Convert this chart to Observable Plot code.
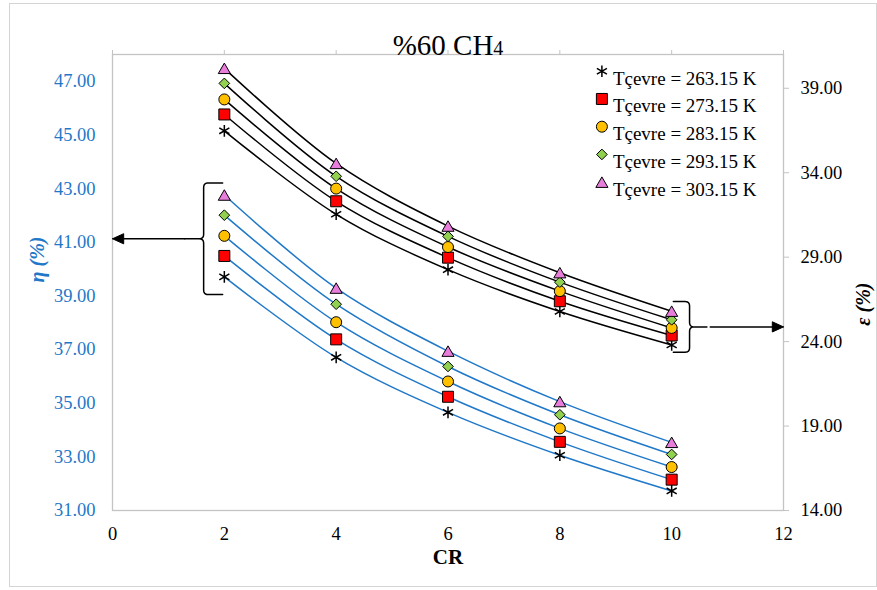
<!DOCTYPE html>
<html>
<head>
<meta charset="utf-8">
<script src="https://cdn.jsdelivr.net/npm/d3@7"></script>
<script src="https://cdn.jsdelivr.net/npm/@observablehq/plot@0.6"></script>
<style>
  html, body { margin: 0; padding: 0; background: #fff; }
  #chart { position: relative; width: 877px; height: 590px; }
  #border { position: absolute; left: 9px; top: 3px; width: 868px; height: 584px;
            border: 1px solid #d4d4d4; box-sizing: border-box; pointer-events: none; }
</style>
</head>
<body>
<div id="chart"><div id="border"></div></div>
<script>
// Compression ratio (x)
const crValues = [2, 4, 6, 8, 10];

// Ambient temperature series
const seriesNames = [
  "Tçevre = 263.15 K",
  "Tçevre = 273.15 K",
  "Tçevre = 283.15 K",
  "Tçevre = 293.15 K",
  "Tçevre = 303.15 K"
];

// Energy efficiency η (%), left axis
const eta263 = [39.71, 36.71, 34.66, 33.06, 31.73];
const eta273 = [40.49, 37.38, 35.24, 33.56, 32.15];
const eta283 = [41.24, 38.02, 35.81, 34.06, 32.62];
const eta293 = [42.01, 38.69, 36.37, 34.57, 33.09];
const eta303 = [42.76, 39.29, 36.94, 35.06, 33.54];

// Exergy efficiency ε (%), right axis
const eps263 = [36.48, 31.54, 28.26, 25.78, 23.80];
const eps273 = [37.45, 32.31, 28.97, 26.39, 24.36];
const eps283 = [38.34, 33.06, 29.60, 26.99, 24.81];
const eps293 = [39.29, 33.79, 30.23, 27.52, 25.29];
const eps303 = [40.18, 34.55, 30.84, 28.08, 25.80];

// Tick labels
const xTicks = [0, 2, 4, 6, 8, 10, 12];
const etaTicks = [31, 33, 35, 37, 39, 41, 43, 45, 47];
const epsTicks = [14, 19, 24, 29, 34, 39];

// Marker styles per series
const symbols = ["asterisk", "square", "circle", "diamond2", "triangle"];
const fills = ["none", "#ff0000", "#ffc000", "#92d050", "#e87ddc"];
const radii = [5.5, 6.2, 5.5, 4.8, 4.5];

const etaSeries = [eta263, eta273, eta283, eta293, eta303];
const epsSeries = [eps263, eps273, eps283, eps293, eps303];

const BLUE = "#1f78c8";
const GRAY = "#c4c4c4";
const SERIF = "'Liberation Serif', 'Times New Roman', serif";

// ε values are drawn against the η scale through this linear map
const etaDomain = [31, 48];
const epsDomain = [14, 41];
const toEta = d3.scaleLinear().domain(epsDomain).range(etaDomain);

const rows = seriesNames.flatMap((name, s) =>
  crValues.map((cr, i) => ({
    name, s, cr,
    eta: etaSeries[s][i],
    eps: epsSeries[s][i]
  }))
);

// Curly brace as a polyline with rounded corners
function brace(xEnd, xSpine, xTip, top, bottom, rx, ry) {
  const mid = (top + bottom) / 2;
  const s = Math.sign(xEnd - xSpine);
  const q = (a, c, b, n = 6) => d3.range(n + 1).map(i => {
    const t = i / n;
    return [
      (1 - t) ** 2 * a[0] + 2 * (1 - t) * t * c[0] + t * t * b[0],
      (1 - t) ** 2 * a[1] + 2 * (1 - t) * t * c[1] + t * t * b[1]
    ];
  });
  return [
    [xEnd, top],
    ...q([xSpine + s * rx, top], [xSpine, top], [xSpine, top - ry]),
    ...q([xSpine, mid + ry], [xSpine, mid], [xSpine - s * rx, mid]),
    [xTip, mid],
    ...q([xSpine - s * rx, mid], [xSpine, mid], [xSpine, mid - ry]),
    ...q([xSpine, bottom + ry], [xSpine, bottom], [xSpine + s * rx, bottom]),
    [xEnd, bottom]
  ];
}

// Left brace groups the η curves at the first CR, right brace the ε curves at the last CR
const firstCR = crValues[0];
const lastCR = crValues[crValues.length - 1];
const etaFirst = etaSeries.map(a => a[0]);
const epsLast = epsSeries.map(a => toEta(a[a.length - 1]));
const leftTop = d3.max(etaFirst) + 0.45, leftBottom = d3.min(etaFirst) - 0.66;
const rightTop = d3.max(epsLast) + 0.36, rightBottom = d3.min(epsLast) - 0.27;
const leftMid = (leftTop + leftBottom) / 2;
const rightMid = (rightTop + rightBottom) / 2;
const leftBrace = brace(firstCR - 0.03, firstCR - 0.37, firstCR - 0.71, leftTop, leftBottom, 0.08, 0.17);
const rightBrace = brace(lastCR + 0.03, lastCR + 0.32, lastCR + 0.63, rightTop, rightBottom, 0.08, 0.17);

const xMin = xTicks[0], xMax = xTicks[xTicks.length - 1];
const headX = 0.2, headY = 0.19;
const leftShaft = [[firstCR - 0.71, leftMid], [xMin + headX, leftMid]];
const leftHead = [[xMin, leftMid], [xMin + headX, leftMid + headY], [xMin + headX, leftMid - headY], [xMin, leftMid]];
const rightShaft = [[lastCR + 0.69, rightMid], [xMax - headX, rightMid]];
const rightHead = [[xMax, rightMid], [xMax - headX, rightMid + headY], [xMax - headX, rightMid - headY], [xMax, rightMid]];

const px = d => d[0], py = d => d[1];

const marks = [
  Plot.frame({stroke: GRAY, strokeWidth: 1.3}),
  Plot.axisX(xTicks, {anchor: "top", tickSize: 5, tickFormat: () => "", stroke: GRAY, label: null}),
  Plot.axisX(xTicks, {anchor: "bottom", tickSize: 0, tickPadding: 16, fontSize: 18.5, fill: "black", label: null}),
  Plot.axisY(etaTicks, {anchor: "left", tickSize: 0, tickPadding: 17, fontSize: 18.5,
    tickFormat: d => d.toFixed(2), fill: BLUE, label: null}),
  Plot.axisY(epsTicks.map(toEta), {anchor: "right", tickSize: 5, tickPadding: 12, fontSize: 18.5,
    tickFormat: d => toEta.invert(d).toFixed(2), stroke: GRAY, fill: "black", label: null}),

  // curves
  Plot.line(rows, {x: "cr", y: d => toEta(d.eps), z: "name", stroke: "black", strokeWidth: 1.5, curve: "catmull-rom"}),
  Plot.line(rows, {x: "cr", y: "eta", z: "name", stroke: BLUE, strokeWidth: 1.5, curve: "catmull-rom"}),

  // braces and arrows
  Plot.line(leftBrace, {x: px, y: py, stroke: "black", strokeWidth: 1.5}),
  Plot.line(rightBrace, {x: px, y: py, stroke: "black", strokeWidth: 1.5}),
  Plot.line(leftShaft, {x: px, y: py, stroke: "black", strokeWidth: 1.5}),
  Plot.line(leftHead, {x: px, y: py, fill: "black", stroke: "black", strokeWidth: 1}),
  Plot.line(rightShaft, {x: px, y: py, stroke: "black", strokeWidth: 1.5}),
  Plot.line(rightHead, {x: px, y: py, fill: "black", stroke: "black", strokeWidth: 1}),

  // title and axis titles
  Plot.text(["%60 CH4"], {frameAnchor: "top", dy: -20, fontSize: 29, fill: "black"}),
  Plot.text(["CR"], {frameAnchor: "bottom", dy: 53, fontSize: 21, fontWeight: "bold", fill: "black"}),
  Plot.text(["η (%)"], {frameAnchor: "left", dx: -75, rotate: -90, fontSize: 20,
    fontWeight: "bold", fontStyle: "italic", fill: BLUE}),
  Plot.text(["ε (%)"], {frameAnchor: "right", dx: 80, rotate: -90, fontSize: 20,
    fontWeight: "bold", fontStyle: "italic", fill: "black"})
];

// markers for both families of curves, plus legend entries
seriesNames.forEach((name, s) => {
  const sub = rows.filter(d => d.s === s);
  const style = {
    symbol: symbols[s],
    r: radii[s],
    fill: fills[s],
    stroke: "black",
    strokeWidth: symbols[s] === "asterisk" ? 1.5 : 1,
    dy: symbols[s] === "triangle" ? 1.7 : 0
  };
  marks.push(Plot.dot(sub, {x: "cr", y: d => toEta(d.eps), ...style}));
  marks.push(Plot.dot(sub, {x: "cr", y: "eta", ...style}));
  const ly = 16.7 + s * 27.75;
  marks.push(Plot.dot([name], {frameAnchor: "top-right", ...style, dx: -181.6, dy: ly + style.dy}));
  marks.push(Plot.text([name], {frameAnchor: "top-right", dx: -170.6, dy: ly, textAnchor: "start",
    fontSize: 19, fill: "black"}));
});

const chart = Plot.plot({
  width: 877,
  height: 590,
  marginLeft: 112,
  marginRight: 94,
  marginTop: 54,
  marginBottom: 80,
  style: {fontFamily: SERIF, fontSize: "18.5px", background: "transparent", color: "black"},
  x: {domain: [xMin, xMax], label: null},
  y: {domain: etaDomain, label: null},
  marks
});

// smaller trailing digit in the chemical formula of the title
d3.select(chart).selectAll("text").filter(function () { return this.textContent === "%60 CH4"; })
  .each(function () {
    const t = d3.select(this);
    t.text("%60 CH");
    t.append("tspan").attr("font-size", 20).text("4");
  });

document.getElementById("chart").appendChild(chart);
</script>
</body>
</html>
